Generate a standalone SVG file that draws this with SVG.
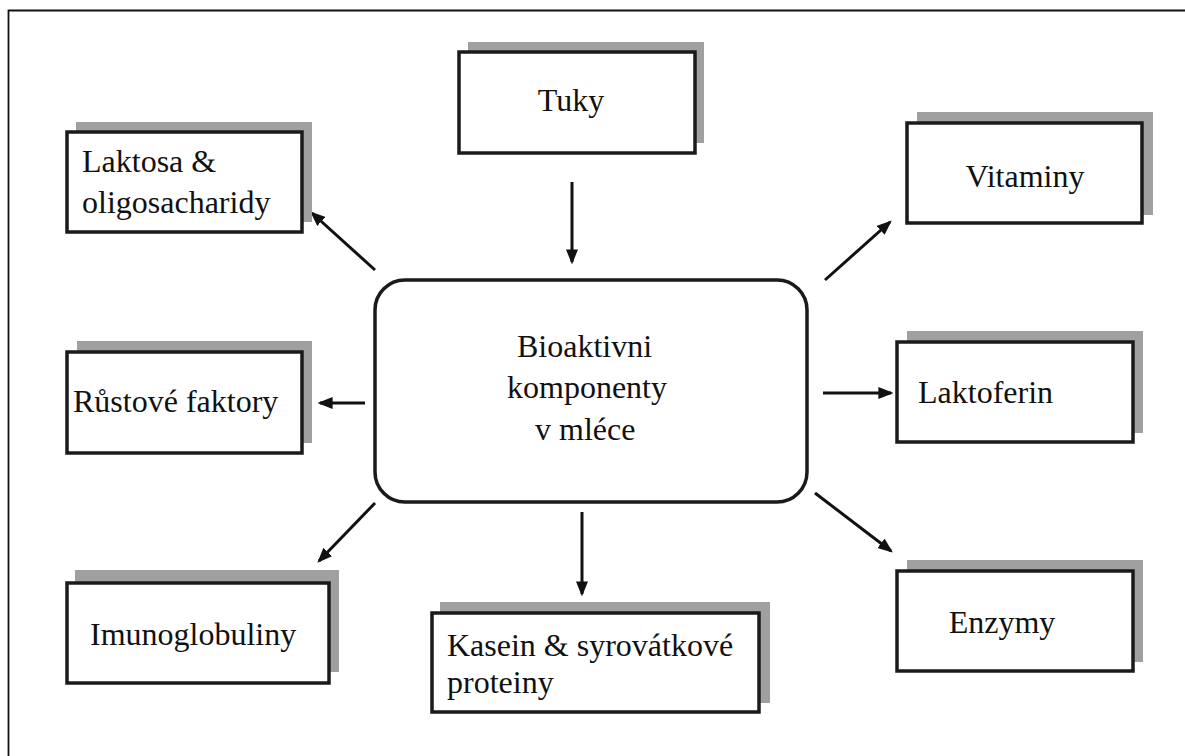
<svg xmlns="http://www.w3.org/2000/svg" width="1185" height="756" viewBox="0 0 1185 756">
<defs>
<style>
.shadow{fill:#a0a0a0;}
.box{fill:#ffffff;stroke:#1a1a1a;stroke-width:3.5;}
.center{fill:#ffffff;stroke:#1a1a1a;stroke-width:3.5;}
.t{font-family:"Liberation Serif","Times New Roman",serif;font-size:32px;fill:#111;}
.c{stroke:#111;stroke-width:3;fill:none;marker-end:url(#ah);}
</style>
<marker id="ah" markerWidth="5" markerHeight="4" refX="4.2" refY="2" orient="auto" markerUnits="strokeWidth">
<path d="M0,0 L5,2 L0,4 z" fill="#111"/>
</marker>
</defs>
<rect width="1185" height="756" fill="#ffffff"/>
<path d="M8.5,756 L8.5,10.5 L1185,10.5" fill="none" stroke="#111" stroke-width="1.8"/>

<g id="connectors">
<line class="c" x1="572" y1="182" x2="572" y2="262"/>
<line class="c" x1="375" y1="270" x2="312" y2="213"/>
<line class="c" x1="825" y1="280" x2="890" y2="222"/>
<line class="c" x1="365" y1="403" x2="320" y2="403"/>
<line class="c" x1="823" y1="393" x2="891" y2="393"/>
<line class="c" x1="375" y1="503" x2="319" y2="561"/>
<line class="c" x1="582" y1="512" x2="582" y2="594"/>
<line class="c" x1="815" y1="493" x2="891" y2="551"/>
</g>

<g id="center">
<rect class="center" x="375" y="280" width="432" height="222" rx="30" ry="30"/>
<text class="t" x="517" y="357">Bioaktivni</text>
<text class="t" x="507" y="398">komponenty</text>
<text class="t" x="535" y="440">v mléce</text>
</g>

<g id="tuky">
<rect class="shadow" x="468" y="42" width="236" height="101"/>
<rect class="box" x="459" y="52" width="236" height="101"/>
<text class="t" x="571" y="111" text-anchor="middle">Tuky</text>
</g>

<g id="laktosa">
<rect class="shadow" x="76" y="122" width="236" height="100"/>
<rect class="box" x="67" y="132" width="235" height="100"/>
<text class="t" x="82" y="172">Laktosa &amp;</text>
<text class="t" x="82" y="213">oligosacharidy</text>
</g>

<g id="vitaminy">
<rect class="shadow" x="917" y="112" width="236" height="103"/>
<rect class="box" x="907" y="123" width="235" height="100"/>
<text class="t" x="1025" y="187" text-anchor="middle">Vitaminy</text>
</g>

<g id="rustove">
<rect class="shadow" x="77" y="341" width="235" height="102"/>
<rect class="box" x="67" y="352" width="235" height="101"/>
<text class="t" x="73" y="412">Růstové faktory</text>
</g>

<g id="laktoferin">
<rect class="shadow" x="907" y="331" width="236" height="102"/>
<rect class="box" x="897" y="342" width="236" height="100"/>
<text class="t" x="918" y="403">Laktoferin</text>
</g>

<g id="imunoglobuliny">
<rect class="shadow" x="75" y="570" width="264" height="102"/>
<rect class="box" x="67" y="583" width="262" height="100"/>
<text class="t" x="90" y="645">Imunoglobuliny</text>
</g>

<g id="kasein">
<rect class="shadow" x="440" y="602" width="330" height="101"/>
<rect class="box" x="432" y="613" width="327" height="99"/>
<text class="t" x="447" y="656">Kasein &amp; syrovátkové</text>
<text class="t" x="447" y="693">proteiny</text>
</g>

<g id="enzymy">
<rect class="shadow" x="907" y="560" width="236" height="102"/>
<rect class="box" x="897" y="571" width="236" height="100"/>
<text class="t" x="1002" y="633" text-anchor="middle">Enzymy</text>
</g>
</svg>
